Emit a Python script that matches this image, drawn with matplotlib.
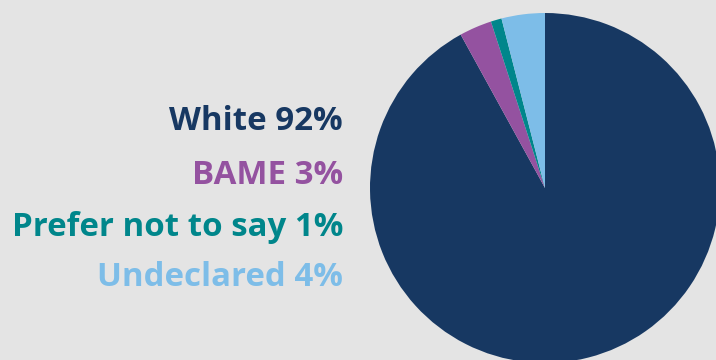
import matplotlib.pyplot as plt

labels = ['White', 'BAME', 'Prefer not to say', 'Undeclared']
values = [92, 3, 1, 4]
colors = ['#173862', '#9452a0', '#00868b', '#7dbde8']

fig = plt.figure(figsize=(7.16, 3.6), dpi=100, facecolor='#e4e4e4')
ax = fig.add_axes([0, 0, 1, 1])
ax.set_facecolor('#e4e4e4')

ax.pie(values, colors=colors, startangle=90, counterclock=False,
       center=(545, 172), radius=175, frame=True,
       wedgeprops=dict(linewidth=0))
ax.set_xlim(0, 716)
ax.set_ylim(0, 360)
ax.set_aspect('equal')
ax.axis('off')

ys = [238, 185, 133, 82]
for lab, v, c, y in zip(labels, values, colors, ys):
    ax.text(343, y, f'{lab} {v}%', color=c, ha='right', va='center',
            fontsize=23.8, fontweight='bold', family='Open Sans')

fig.savefig('out.png', dpi=100, facecolor=fig.get_facecolor())
